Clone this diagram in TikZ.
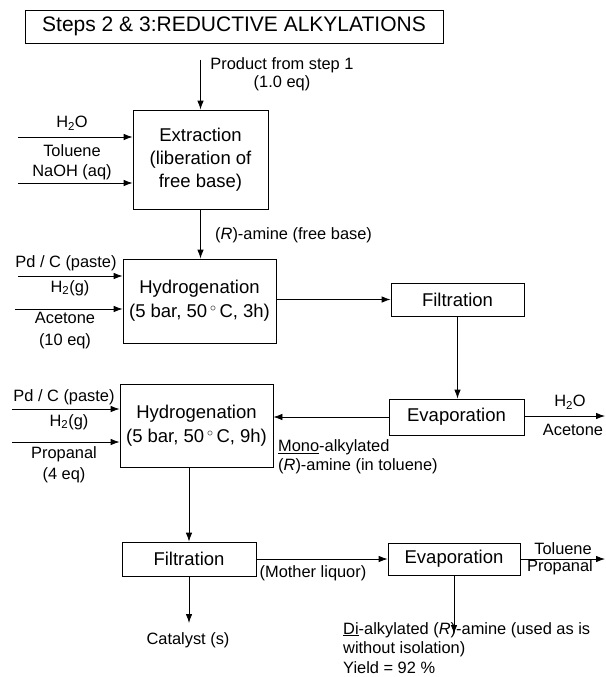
\documentclass[tikz,border=0pt]{standalone}
\usepackage{fontspec}
\setmainfont{Liberation Sans}
\usetikzlibrary{arrows.meta}
\newcommand\boxfont{\fontsize{18.5}{24}\selectfont}
\newcommand\lblfont{\fontsize{16.4}{19}\selectfont}
\newcommand\ttlfont{\fontsize{21}{25}\selectfont}
\newcommand\degC{$\,^{\circ}\,$C}
\begin{document}
\begin{tikzpicture}[x=1pt,y=-1pt,
  box/.style={draw, line width=0.8pt, inner sep=0pt, align=center, font=\boxfont},
  lbl/.style={inner sep=0pt, align=center, font=\lblfont},
  flow/.style={line width=0.8pt, -{Latex[length=9pt,width=6.5pt]}},
]
\useasboundingbox (0,0) rectangle (605,677);

% title
\node[box, minimum width=418pt, minimum height=33pt, font=\ttlfont] (title) at (234,26.5)
  {Steps 2 \& 3:REDUCTIVE ALKYLATIONS};

% process units
\node[box, minimum width=135pt, minimum height=99pt, font=\fontsize{18.5}{23}\selectfont] (ext) at (200.5,159.5)
  {Extraction\\(liberation of\\free base)};
\node[box, minimum width=153pt, minimum height=84pt] (hyd1) at (199.5,301)
  {Hydrogenation\\(5 bar, 50\degC, 3h)};
\node[box, minimum width=133pt, minimum height=33pt] (fil1) at (457.5,299.5) {Filtration};
\node[box, minimum width=135pt, minimum height=36pt] (eva1) at (456.5,417) {Evaporation};
\node[box, minimum width=153pt, minimum height=83pt] (hyd2) at (196.5,425.5)
  {Hydrogenation\\(5 bar, 50\degC, 9h)};
\node[box, minimum width=134pt, minimum height=34pt] (fil2) at (189,559) {Filtration};
\node[box, minimum width=132pt, minimum height=32pt] (eva2) at (454,559) {Evaporation};

% feed into extraction
\coordinate (p0) at (200.5,60);
\draw[flow] (p0) -- (ext.north);
\node[lbl, font=\fontsize{16.4}{17.5}\selectfont] (prod) at (282,74.5) {Product from step 1\\(1.0 eq)};

\coordinate (e1) at (18,137);
\coordinate (e2) at (18,183);
\draw[flow] (e1) -- (e1 -| ext.west);
\draw[flow] (e2) -- (e2 -| ext.west);
\node[lbl] (h2o1) at (72,123) {H\textsubscript{2}O};
\node[lbl, font=\fontsize{16.4}{20}\selectfont] (tol1) at (72,162.5) {Toluene\\NaOH (aq)};

% extraction to first hydrogenation
\draw[flow] (ext.south) -- (ext.south |- hyd1.north);
\node[lbl, anchor=west] (ramine) at (215,235) {(\textit{R})-amine (free base)};

\coordinate (a1) at (18,276);
\coordinate (a2) at (15,309);
\draw[flow] (a1) -- (a1 -| hyd1.west);
\draw[flow] (a2) -- (a2 -| hyd1.west);
\node[lbl] (pd1) at (66,263) {Pd / C (paste)};
\node[lbl] (h21) at (70,288) {H\textsubscript{2}(g)};
\node[lbl, font=\fontsize{16.4}{22}\selectfont] (ace1) at (65,331) {Acetone\\(10 eq)};

% first hydrogenation work-up
\draw[flow] (hyd1.east |- fil1.west) -- (fil1.west);
\draw[flow] (fil1.south) -- (fil1.south |- eva1.north);
\draw[flow] (eva1.west) -- (eva1.west -| hyd2.east);
\coordinate (o1) at (605,416);
\draw[flow] (eva1.east |- o1) -- (o1);
\node[lbl] (h2o2) at (570,402) {H\textsubscript{2}O};
\node[lbl] (ace2) at (573,430) {Acetone};
\node[lbl, anchor=west, align=left] (mono) at (278,457)
  {\underline{Mono}-alkylated\\(\textit{R})-amine (in toluene)};

% second hydrogenation
\coordinate (b1) at (12,409);
\coordinate (b2) at (12,442);
\draw[flow] (b1) -- (b1 -| hyd2.west);
\draw[flow] (b2) -- (b2 -| hyd2.west);
\node[lbl] (pd2) at (64,397) {Pd / C (paste)};
\node[lbl] (h22) at (69,422) {H\textsubscript{2}(g)};
\node[lbl, font=\fontsize{16.4}{21}\selectfont] (pro1) at (64,464.5) {Propanal\\(4 eq)};

% second work-up
\draw[flow] (hyd2.south -| fil2.north) -- (fil2.north);
\draw[flow] (fil2.east) -- (eva2.west);
\node[lbl] (mother) at (313,573) {(Mother liquor)};
\coordinate (o2) at (605,559);
\draw[flow] (eva2.east) -- (o2);
\node[lbl] (tol2) at (563,549) {Toluene};
\node[lbl] (pro2) at (560,567) {Propanal};

\coordinate (c1) at (189,623);
\draw[flow] (fil2.south) -- (c1);
\node[lbl] (cat) at (188,640) {Catalyst (s)};

\coordinate (d1) at (454,634);
\draw[flow] (eva2.south) -- (d1);
\node[lbl, anchor=north west, align=left, font=\fontsize{16.4}{19.5}\selectfont] (di) at (343,622)
  {\underline{Di}-alkylated (\textit{R})-amine (used as is\\without isolation)\\Yield = 92 \%};
\end{tikzpicture}
\end{document}
